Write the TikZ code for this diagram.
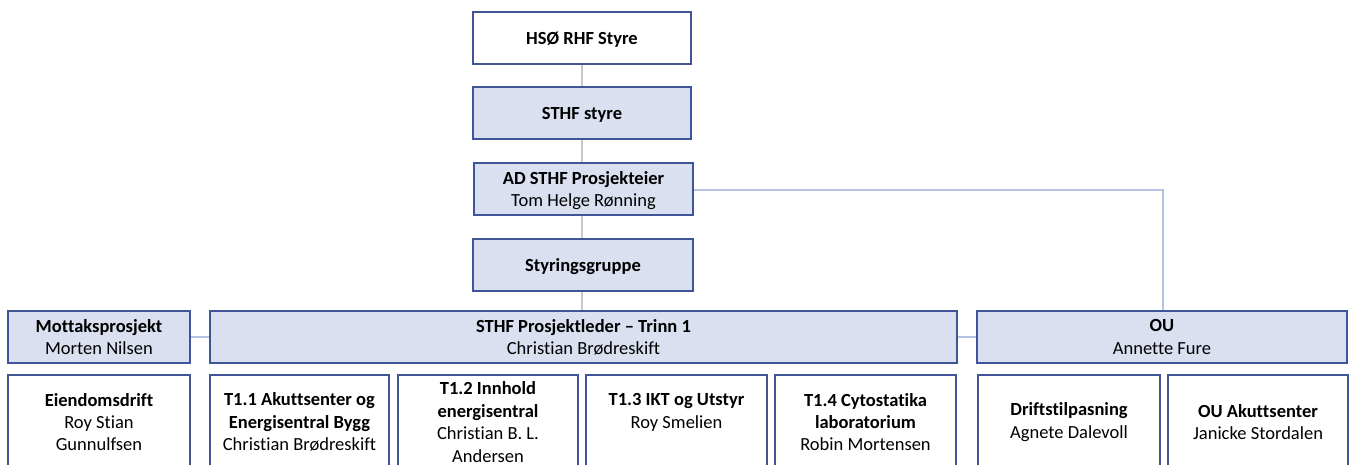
\documentclass[tikz,border=0pt]{standalone}
\usepackage{fontspec}
\setmainfont{Carlito}[Ligatures={NoCommon}]
\definecolor{boxfill}{HTML}{DAE0F0}
\definecolor{boxdraw}{HTML}{3F5597}
\definecolor{grayline}{HTML}{C8C8C8}
\definecolor{blueline}{HTML}{B4C3E4}
\tikzset{
  box/.style={draw=boxdraw, line width=1.3pt, align=center, inner sep=0pt,
    font=\fontsize{18.5}{22.4}\selectfont, text=black},
  filled/.style={box, fill=boxfill, text depth=0pt},
  plain/.style={box, fill=white},
  tplain/.style={plain, text depth=0pt},
  gconn/.style={draw=grayline, line width=2pt},
  bconn/.style={draw=blueline, line width=2pt},
}
\begin{document}
\begin{tikzpicture}[x=1pt,y=-1pt]
\useasboundingbox (0,0) rectangle (1354,464);
\clip (0,0) rectangle (1354,464);
% connectors drawn first
\coordinate (vtop) at (582,64);
\coordinate (vbot) at (582,311);
\draw[gconn] (vtop) -- (vbot);
\coordinate (ouc) at (1163,190);
% boxes
\node[tplain, minimum width=218pt, minimum height=52pt] (hso) at (582,38) {\textbf{HSØ RHF Styre}};
\node[filled, minimum width=218pt, minimum height=52pt] (sthf) at (582,113) {\textbf{STHF styre}};
\node[filled, minimum width=219pt, minimum height=52pt] (ad) at (583.5,189) {\textbf{AD STHF Prosjekteier}\\Tom Helge Rønning};
\node[filled, minimum width=220pt, minimum height=52pt] (styr) at (583,265) {\textbf{Styringsgruppe}};
\node[filled, minimum width=182pt, minimum height=52pt] (mott) at (99,337) {\textbf{Mottaksprosjekt}\\Morten Nilsen};
\node[filled, minimum width=747pt, minimum height=52pt] (pl) at (583.5,337) {\textbf{STHF Prosjektleder – Trinn 1}\\Christian Brødreskift};
\node[filled, minimum width=370pt, minimum height=52pt] (ou) at (1162,337) {\textbf{OU}\\Annette Fure};
\draw[bconn] (ad.east |- ouc) -- (ouc) -- (ouc |- ou.north);
\draw[bconn] (mott.east) -- (pl.west);
\draw[bconn] (pl.east) -- (ou.west);
% bottom boxes
\node[plain, minimum width=182pt, minimum height=94pt] (eien) at (99,422) {\textbf{Eiendomsdrift}\\Roy Stian\\Gunnulfsen};
\node[plain, minimum width=179pt, minimum height=94pt] (t11) at (299.5,422) {\textbf{T1.1 Akuttsenter og}\\\textbf{Energisentral Bygg}\\Christian Brødreskift};
\node[plain, minimum width=180pt, minimum height=94pt] (t12) at (488,422) {\textbf{T1.2 Innhold}\\\textbf{energisentral}\\Christian B. L.\\Andersen};
\node[plain, minimum width=181pt, minimum height=94pt] (t13) at (676.5,422) {\textbf{T1.3 IKT og Utstyr}\\Roy Smelien\\\mbox{}};
\node[plain, minimum width=181pt, minimum height=94pt] (t14) at (865.5,422) {\textbf{T1.4 Cytostatika}\\\textbf{laboratorium}\\Robin Mortensen};
\node[plain, minimum width=182pt, minimum height=94pt] (drift) at (1069,422) {\textbf{Driftstilpasning}\\Agnete Dalevoll};
\node[plain, minimum width=180pt, minimum height=94pt] (ouak) at (1258,422) {\textbf{OU Akuttsenter}\\Janicke Stordalen};
\end{tikzpicture}
\end{document}
